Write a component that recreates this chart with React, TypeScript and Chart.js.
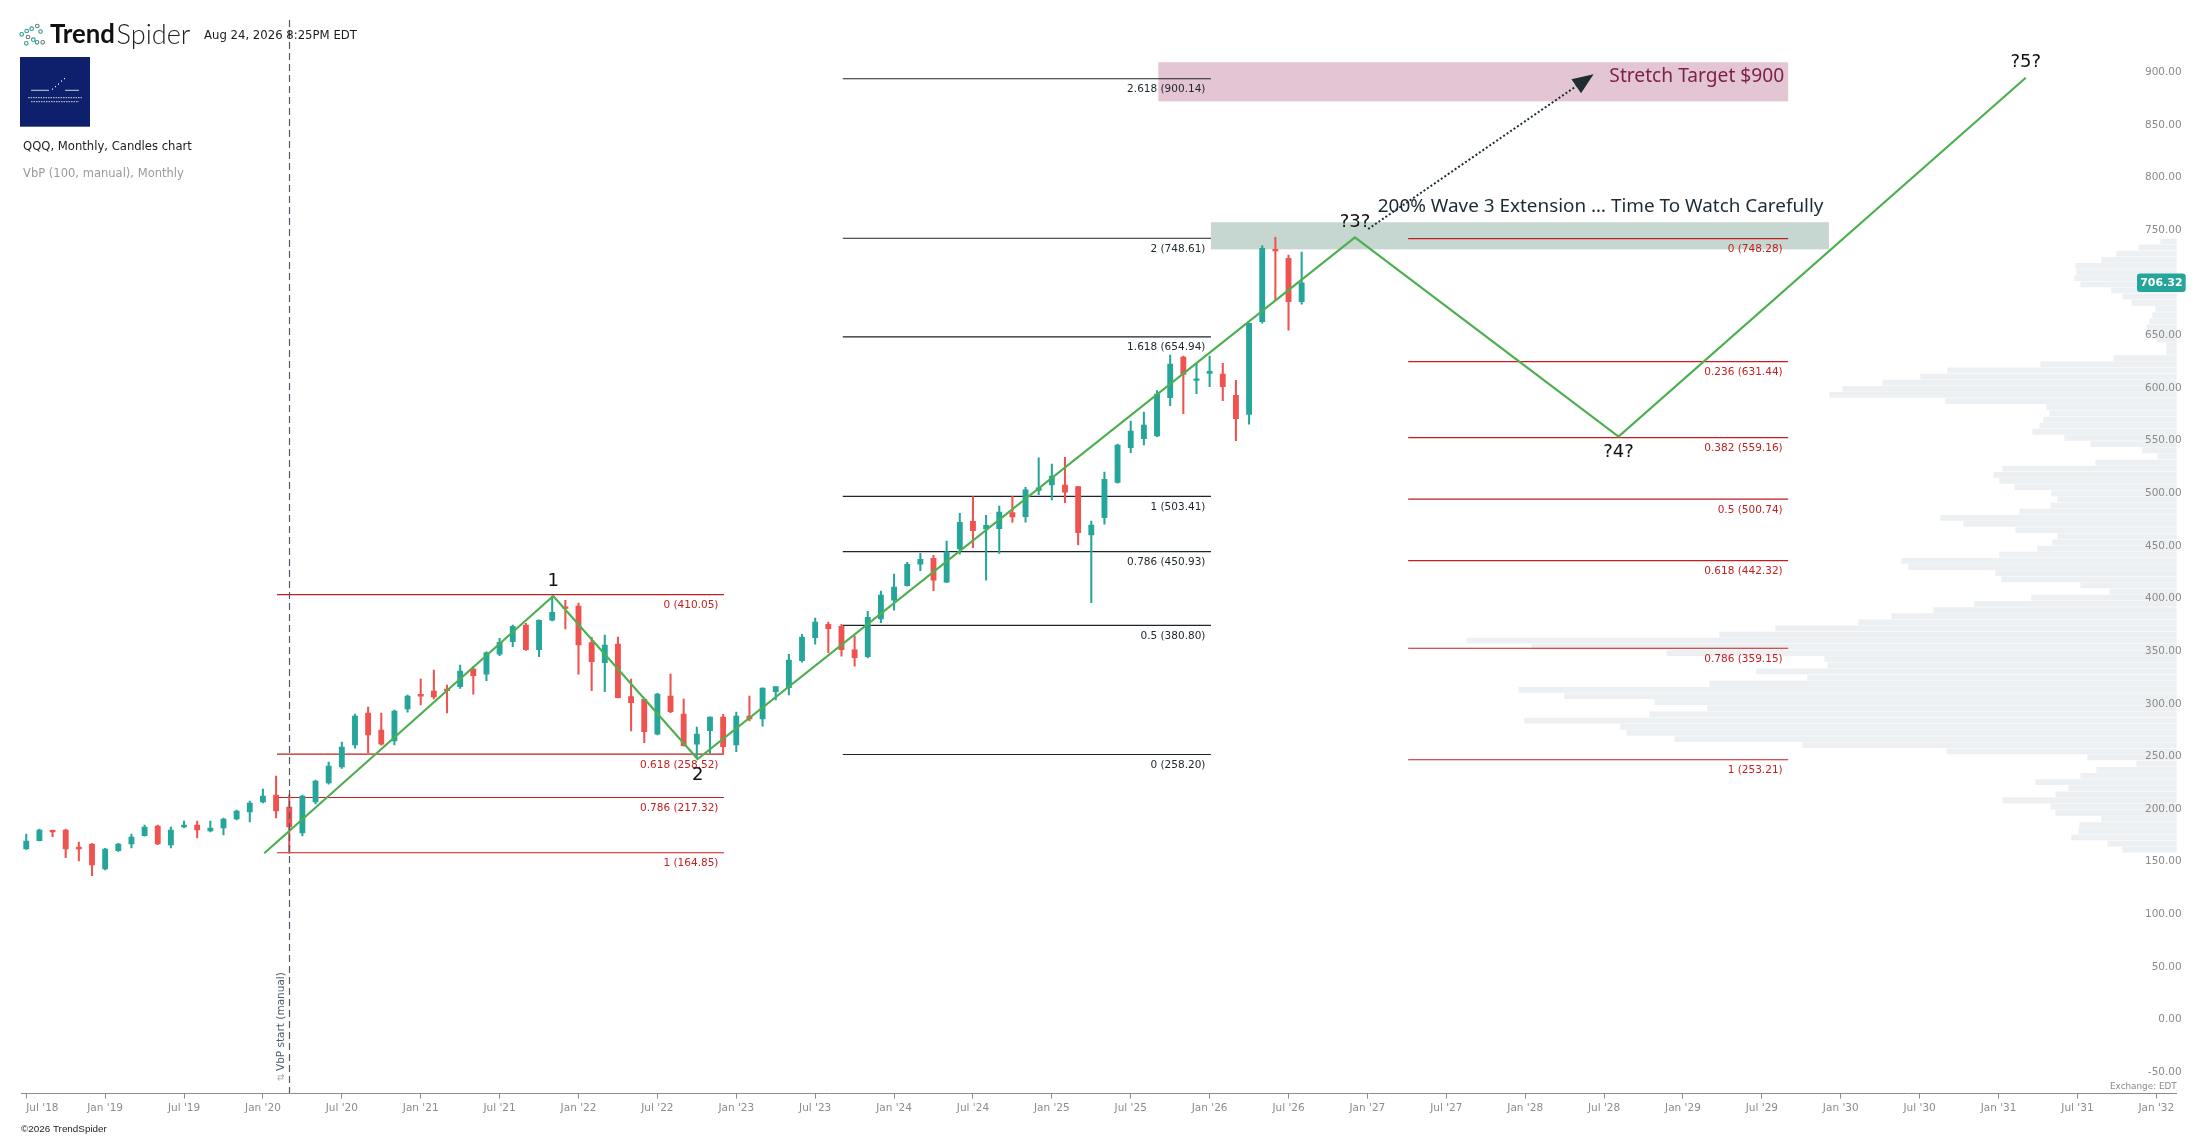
import { useEffect, useRef } from 'react';
import { Chart, registerables } from 'chart.js';

Chart.register(...registerables);

// ---------------- data ----------------
const candleMonths = [
  '2018-07','2018-08','2018-09','2018-10','2018-11','2018-12',
  '2019-01','2019-02','2019-03','2019-04','2019-05','2019-06','2019-07','2019-08','2019-09','2019-10','2019-11','2019-12',
  '2020-01','2020-02','2020-03','2020-04','2020-05','2020-06','2020-07','2020-08','2020-09','2020-10','2020-11','2020-12',
  '2021-01','2021-02','2021-03','2021-04','2021-05','2021-06','2021-07','2021-08','2021-09','2021-10','2021-11','2021-12',
  '2022-01','2022-02','2022-03','2022-04','2022-05','2022-06','2022-07','2022-08','2022-09','2022-10','2022-11','2022-12',
  '2023-01','2023-02','2023-03','2023-04','2023-05','2023-06','2023-07','2023-08','2023-09','2023-10','2023-11','2023-12',
  '2024-01','2024-02','2024-03','2024-04','2024-05','2024-06','2024-07','2024-08','2024-09','2024-10','2024-11','2024-12',
  '2025-01','2025-02','2025-03','2025-04','2025-05','2025-06','2025-07','2025-08','2025-09','2025-10','2025-11','2025-12',
  '2026-01','2026-02','2026-03','2026-04','2026-05','2026-06','2026-07','2026-08'
];

const openP = [
  168.4,176.3,185.8,186.4,170.3,173.1,149.4,166.8,173.1,181.0,
  190.2,172.2,189.3,191.2,185.5,188.3,196.9,203.5,213.0,219.7,
  208.3,183.6,213.0,231.1,246.3,267.2,297.6,281.4,271.0,301.4,
  314.7,318.5,319.4,322.6,339.4,334.6,353.6,365.3,381.2,357.7,
  385.9,398.0,399.2,364.4,345.4,363.1,313.1,310.6,277.6,313.7,
  296.6,268.1,280.8,293.8,267.2,294.7,291.9,317.8,321.6,347.3,
  369.1,381.8,379.9,357.7,351.1,386.9,404.9,418.6,439.1,444.5,
  422.0,453.4,479.7,472.4,472.7,488.1,484.0,509.0,514.2,514.2,
  512.6,466.7,483.1,516.7,549.6,558.2,560.8,597.2,635.8,613.6,
  620.3,619.6,599.4,581.3,669.4,737.5,729.5,688.4
];
const highP = [
  182.6,187.4,186.4,187.4,175.0,173.5,169.0,173.8,182.6,191.2,
  191.2,189.3,195.0,195.0,195.0,197.8,205.4,214.0,225.4,237.7,
  219.7,219.7,233.9,251.0,270.0,296.6,303.3,297.6,300.4,314.7,
  329.9,338.4,324.2,343.2,341.6,355.8,368.5,381.2,382.8,386.0,
  408.7,404.6,402.1,369.5,371.7,369.8,329.9,311.0,316.3,334.6,
  310.9,284.3,294.0,296.3,298.5,313.7,321.5,322.8,353.3,372.3,
  387.8,384.0,381.8,370.7,394.2,413.5,429.6,440.7,449.3,447.4,
  461.0,487.3,503.1,485.4,494.2,503.5,512.0,540.0,534.1,540.5,
  513.0,480.0,526.5,553.1,575.0,583.5,603.8,637.7,636.7,629.8,
  636.7,629.8,613.6,668.0,741.6,749.5,732.7,735.5
];
const lowP = [
  168.0,176.0,180.1,160.1,157.0,143.0,148.5,166.0,169.3,180.5,
  172.5,169.3,188.3,178.8,184.5,181.7,196.0,194.0,212.1,197.8,
  164.3,180.7,211.1,230.0,245.0,264.3,259.6,267.0,267.2,298.5,
  305.2,310.9,297.6,321.0,315.6,328.3,352.0,360.6,357.0,351.1,
  385.0,377.4,334.6,318.8,317.8,312.0,280.5,269.4,276.7,298.0,
  266.0,253.9,259.3,259.3,260.8,290.0,285.2,310.0,314.7,346.0,
  363.1,354.9,351.7,342.2,350.0,383.4,395.4,418.0,432.8,413.8,
  421.4,448.6,454.7,423.9,449.3,478.7,479.0,505.0,500.0,497.4,
  457.2,402.4,477.1,516.0,544.9,552.2,560.0,589.6,582.0,601.0,
  607.6,594.3,556.3,572.1,668.0,690.0,661.4,686.1
];
const closeP = [
  176.0,186.4,184.5,168.4,168.4,153.2,168.4,173.1,179.8,189.3,
  173.1,186.4,191.2,186.4,188.3,196.9,204.5,212.1,218.7,204.5,
  189.3,218.7,233.0,247.2,265.3,294.7,276.7,268.1,299.5,313.7,
  313.7,312.8,318.8,337.5,333.0,354.9,364.7,379.9,357.7,385.6,
  393.2,397.0,362.2,346.4,362.2,312.2,307.4,279.8,315.6,298.9,
  266.5,277.6,293.8,265.6,294.7,292.0,321.3,322.6,347.9,369.8,
  384.0,377.7,357.7,350.1,388.5,409.7,417.3,438.8,443.6,423.9,
  450.8,478.7,470.8,475.9,488.5,483.9,509.7,511.5,522.7,507.5,
  468.9,476.2,519.6,552.2,565.5,571.2,600.6,629.1,619.3,614.6,
  622.2,607.6,577.2,667.8,739.0,736.5,688.4,706.32
];

// x axis: month index (0 = Jul 2018)
const xTickValues = [0,6,12,18,24,30,36,42,48,54,60,66,72,78,84,90,96,102,108,114,120,126,132,138,144,150,156,162];
const xTickLabels = [
  "Jul '18","Jan '19","Jul '19","Jan '20","Jul '20","Jan '21","Jul '21","Jan '22","Jul '22","Jan '23",
  "Jul '23","Jan '24","Jul '24","Jan '25","Jul '25","Jan '26","Jul '26","Jan '27","Jul '27","Jan '28",
  "Jul '28","Jan '29","Jul '29","Jan '30","Jul '30","Jan '31","Jul '31","Jan '32"
];
const yTickValues = [-50,0,50,100,150,200,250,300,350,400,450,500,550,600,650,700,750,800,850,900];

// Volume by price (100 rows, top row first)
const vbpHigh = 748.61;
const vbpLow = 164.85;
const vbpVolumes = [
  16,38,60,75,101,100,102,96,65,54,
  45,21,24,27,30,28,20,10,10,63,
  136,229,256,294,334,347,231,130,127,133,
  137,144,112,86,34,19,81,174,183,177,
  162,125,119,126,157,236,213,161,119,124,
  139,177,275,268,181,175,96,67,145,202,
  243,285,318,401,457,710,645,510,352,349,
  420,369,467,658,612,522,469,527,652,556,
  550,502,374,230,89,40,80,96,141,108,
  121,174,126,121,75,97,98,105,69,54
];
const vbpStartMonth = 20;

// Fibonacci tools
const fibALevels = [410.05, 258.52, 217.32, 164.85];
const fibARatios = ['0', '0.618', '0.786', '1'];
const fibARange = [19.07, 53.06];

const fibBLevels = [900.14, 748.61, 654.94, 503.41, 450.93, 380.80, 258.20];
const fibBRatios = ['2.618', '2', '1.618', '1', '0.786', '0.5', '0'];
const fibBRange = [62.1, 90.1];

const fibCLevels = [748.28, 631.44, 559.16, 500.74, 442.32, 359.15, 253.21];
const fibCRatios = ['0', '0.236', '0.382', '0.5', '0.618', '0.786', '1'];
const fibCRange = [105.1, 134.0];

// Elliott wave count
const waveX = [18.1, 40.08, 51.06, 101.05, 121.1, 152.07];
const waveY = [164.4, 408.7, 253.9, 749.5, 560.1, 901.1];
const waveLabels = ['', '1', '2', '?3?', '?4?', '?5?'];

// zones [x0, x1, priceLow, priceHigh]
const stretchZone = [86.1, 134.0, 878.7, 915.8];
const extensionZone = [90.1, 137.1, 738.1, 763.8];

// notes
const noteTexts = ['200% Wave 3 Extension \u2026 Time To Watch Carefully', 'Stretch Target $900'];
const noteX = [102.79, 120.4];
const noteY = [778.6, 902.1];

// arrow [x, price]
const arrowFrom = [102.06, 757.4];
const arrowTo = [119.2, 904.4];

// ---------------- styles ----------------
const GREEN = '#26a69a';
const RED = '#ef5350';
const FIB_RED = '#c41e1e';
const FIB_DARK = '#1c262b';
const WAVE = '#4caf50';
const DV = '"DejaVu Sans", sans-serif';

const isUp = (i: number) => closeP[i] >= openP[i];
const candleColors = closeP.map((_, i) => (isUp(i) ? GREEN : RED));
const vbpBin = (vbpHigh - vbpLow) / vbpVolumes.length;

function fibData(levels: number[], range: number[]) {
  const out: any[] = [];
  levels.forEach((lv) => {
    out.push({ x: range[0], y: lv });
    out.push({ x: range[1], y: lv });
    out.push({ x: range[1], y: null });
  });
  return out;
}

function fitFont(ctx: CanvasRenderingContext2D, text: string, weight: string, family: string, base: number, target: number) {
  ctx.font = `${weight} ${base}px ${family}`;
  const w = ctx.measureText(text).width;
  let s = w > 0 ? (base * target) / w : base;
  s = Math.max(base * 0.75, Math.min(base * 1.35, s));
  ctx.font = `${weight} ${s}px ${family}`;
}

const overlay = {
  id: 'overlay',
  beforeDatasetsDraw(chart: any) {
    const { ctx, scales } = chart;
    const x = scales.x;
    const y = scales.y;
    ctx.save();
    const zones: [number[], string][] = [
      [stretchZone, '#e4c5d4'],
      [extensionZone, '#c6d6d1'],
    ];
    zones.forEach(([z, c]) => {
      const x0 = x.getPixelForValue(z[0]);
      const x1 = x.getPixelForValue(z[1]);
      const y0 = y.getPixelForValue(z[3]);
      const y1 = y.getPixelForValue(z[2]);
      ctx.fillStyle = c;
      ctx.fillRect(x0, y0, x1 - x0, y1 - y0);
    });
    ctx.restore();
  },
  afterDatasetsDraw(chart: any) {
    const { ctx, scales, chartArea } = chart;
    const x = scales.x;
    const y = scales.y;
    ctx.save();

    // fib labels
    ctx.textAlign = 'right';
    ctx.textBaseline = 'middle';
    ctx.font = `10.5px ${DV}`;
    const groups: [number[], string[], number[], string][] = [
      [fibALevels, fibARatios, fibARange, FIB_RED],
      [fibBLevels, fibBRatios, fibBRange, FIB_DARK],
      [fibCLevels, fibCRatios, fibCRange, FIB_RED],
    ];
    groups.forEach(([lv, rt, rg, col]) => {
      const xe = x.getPixelForValue(rg[1]);
      ctx.fillStyle = col;
      lv.forEach((v, i) => {
        ctx.fillText(`${rt[i]} (${v.toFixed(2)})`, xe - 5.5, y.getPixelForValue(v) + 10.7);
      });
    });

    // wave labels
    ctx.fillStyle = '#111';
    ctx.textAlign = 'center';
    ctx.font = `18px ${DV}`;
    waveLabels.forEach((t, i) => {
      if (!t) return;
      const px = x.getPixelForValue(waveX[i]);
      const py = y.getPixelForValue(waveY[i]);
      const up = i % 2 === 1;
      ctx.fillText(t, px, up ? py - 15 : py + 16);
    });

    // notes
    ctx.textAlign = 'left';
    ctx.fillStyle = '#1c2b33';
    fitFont(ctx, noteTexts[0], '400', '"Noto Sans", sans-serif', 18, 446);
    ctx.fillText(noteTexts[0], x.getPixelForValue(noteX[0]), y.getPixelForValue(noteY[0]));
    ctx.fillStyle = '#7b1f4b';
    fitFont(ctx, noteTexts[1], '400', '"Noto Sans", sans-serif', 19, 175);
    ctx.fillText(noteTexts[1], x.getPixelForValue(noteX[1]), y.getPixelForValue(noteY[1]));

    // arrow
    const ax0 = x.getPixelForValue(arrowFrom[0]);
    const ay0 = y.getPixelForValue(arrowFrom[1]);
    const ax1 = x.getPixelForValue(arrowTo[0]);
    const ay1 = y.getPixelForValue(arrowTo[1]);
    const dx = ax1 - ax0;
    const dy = ay1 - ay0;
    const len = Math.hypot(dx, dy);
    const ux = dx / len;
    const uy = dy / len;
    const headL = 21;
    const headW = 8.5;
    const bx = ax1 - ux * headL;
    const by = ay1 - uy * headL;
    ctx.strokeStyle = '#1f2d33';
    ctx.lineWidth = 2;
    ctx.setLineDash([2, 2.2]);
    ctx.beginPath();
    ctx.moveTo(ax0, ay0);
    ctx.lineTo(bx, by);
    ctx.stroke();
    ctx.setLineDash([]);
    ctx.fillStyle = '#1f2d33';
    ctx.beginPath();
    ctx.moveTo(ax1, ay1);
    ctx.lineTo(bx - uy * headW, by + ux * headW);
    ctx.lineTo(bx + uy * headW, by - ux * headW);
    ctx.closePath();
    ctx.fill();

    // VbP start line
    const vx = Math.round(x.getPixelForValue(vbpStartMonth)) + 0.5;
    ctx.strokeStyle = '#4d5964';
    ctx.lineWidth = 1.2;
    ctx.setLineDash([7, 4]);
    ctx.beginPath();
    ctx.moveTo(vx, 20);
    ctx.lineTo(vx, chartArea.bottom);
    ctx.stroke();
    ctx.setLineDash([]);
    ctx.save();
    ctx.translate(vx - 8, 0);
    ctx.rotate(-Math.PI / 2);
    ctx.textBaseline = 'middle';
    ctx.textAlign = 'center';
    ctx.fillStyle = '#a3acb2';
    ctx.font = `9px ${DV}`;
    ctx.fillText('\u21c5', -1077.5, 0);
    ctx.textAlign = 'left';
    ctx.fillStyle = '#4d5b66';
    ctx.font = `10.5px ${DV}`;
    ctx.fillText('VbP start (manual)', -1071, 0);
    ctx.restore();

    ctx.restore();
  },
  afterDraw(chart: any) {
    const { ctx, scales, chartArea } = chart;
    const y = scales.y;
    ctx.save();
    ctx.textBaseline = 'middle';

    // last price badge
    const last = closeP[closeP.length - 1];
    const by = y.getPixelForValue(last);
    const bx0 = 2137;
    const bw = 48.7;
    const bh = 18.4;
    ctx.fillStyle = GREEN;
    ctx.beginPath();
    (ctx as any).roundRect(bx0, by - bh / 2, bw, bh, 3);
    ctx.fill();
    ctx.fillStyle = '#fff';
    ctx.textAlign = 'center';
    ctx.font = `bold 11px ${DV}`;
    ctx.fillText(last.toFixed(2), bx0 + bw / 2, by + 0.5);

    // exchange
    ctx.textAlign = 'right';
    ctx.fillStyle = '#8a8a8a';
    fitFont(ctx, 'Exchange: EDT', '400', DV, 9.5, 66.7);
    ctx.fillText('Exchange: EDT', chartArea.right, 1086.7);

    // copyright
    ctx.textAlign = 'left';
    ctx.fillStyle = '#222';
    fitFont(ctx, '\u00a92026 TrendSpider', '400', '"Liberation Sans", Arial, sans-serif', 11, 86);
    ctx.fillText('\u00a92026 TrendSpider', 21, 1129.3);

    // header logo icon
    const dots: [number, number, string][] = [
      [21.7, 34.3, '#2a9d8f'], [26.7, 31, '#2a9d8f'], [28, 37, '#6b7c80'], [31.7, 28.7, '#2a9d8f'],
      [33.3, 39.7, '#2a9d8f'], [37.3, 26, '#6b7c80'], [37, 42.3, '#2a9d8f'], [40.5, 31.5, '#2a9d8f'],
      [42.7, 42.3, '#6b7c80'], [26.3, 43.3, '#2a9d8f'],
    ];
    ctx.lineWidth = 1.1;
    dots.forEach(([cx, cy, c]) => {
      ctx.strokeStyle = c;
      ctx.beginPath();
      ctx.arc(cx, cy, 1.8, 0, Math.PI * 2);
      ctx.stroke();
    });
    ctx.textAlign = 'left';
    ctx.fillStyle = '#111';
    fitFont(ctx, 'Trend', '700', 'Lato, "Open Sans", sans-serif', 23, 65);
    ctx.fillText('Trend', 50, 34.8);
    ctx.fillStyle = '#222';
    fitFont(ctx, 'Spider', '300', 'Lato, "Open Sans", sans-serif', 23, 74);
    ctx.fillText('Spider', 116.5, 34.8);

    // date
    ctx.fillStyle = '#1a1a1a';
    fitFont(ctx, 'Aug 24, 2026 8:25PM EDT', '400', DV, 11, 153);
    ctx.fillText('Aug 24, 2026 8:25PM EDT', 204, 35.7);

    // avatar square
    ctx.fillStyle = '#0e1f6b';
    ctx.fillRect(20, 57, 70, 69.7);
    ctx.strokeStyle = '#ffffff';
    ctx.lineWidth = 0.8;
    ctx.beginPath();
    ctx.moveTo(31, 90.3); ctx.lineTo(49, 90.3);
    ctx.moveTo(65, 90.3); ctx.lineTo(79, 90.3);
    ctx.stroke();
    ctx.fillStyle = '#ffffff';
    [[52, 88.5], [55, 86], [58, 83.5], [61, 80.5], [64, 78]].forEach(([px, py]) => {
      ctx.fillRect(px, py, 1, 1.2);
    });
    ctx.globalAlpha = 0.8;
    ctx.setLineDash([1.6, 0.9]);
    ctx.lineWidth = 1;
    ctx.beginPath();
    ctx.moveTo(28, 97.7); ctx.lineTo(82, 97.7);
    ctx.moveTo(31, 101.7); ctx.lineTo(79, 101.7);
    ctx.stroke();
    ctx.setLineDash([]);
    ctx.globalAlpha = 1;

    // titles
    ctx.fillStyle = '#222';
    fitFont(ctx, 'QQQ, Monthly, Candles chart', '400', DV, 11.5, 169);
    ctx.fillText('QQQ, Monthly, Candles chart', 23, 147.3);
    ctx.fillStyle = '#9a9a9a';
    fitFont(ctx, 'VbP (100, manual), Monthly', '400', DV, 11.5, 161);
    ctx.fillText('VbP (100, manual), Monthly', 23, 173.7);

    ctx.restore();
  },
};

export default function App() {
  const ref = useRef<HTMLCanvasElement>(null);

  useEffect(() => {
    if (!ref.current) return;
    const vbpData = vbpVolumes.map((v, k) => ({ x: v, y: vbpHigh - (k + 0.5) * vbpBin }));
    const wickData = candleMonths.map((_, i) => ({ x: i, y: [lowP[i], highP[i]] }));
    const bodyData = candleMonths.map((_, i) => ({ x: i, y: [openP[i], closeP[i]] }));
    const waveData = waveX.map((v, i) => ({ x: v, y: waveY[i] }));

    const chart = new Chart(ref.current, {
      type: 'bar',
      data: {
        datasets: [
          {
            type: 'bar',
            label: 'VbP',
            indexAxis: 'y',
            xAxisID: 'xv',
            yAxisID: 'y',
            data: vbpData,
            backgroundColor: '#edf0f2',
            barThickness: 5.1,
            grouped: false,
            borderWidth: 0,
            order: 10,
          } as any,
          {
            type: 'line',
            label: 'fibA',
            data: fibData(fibALevels, fibARange),
            borderColor: FIB_RED,
            borderWidth: 1.1,
            pointRadius: 0,
            spanGaps: false,
            order: 6,
          } as any,
          {
            type: 'line',
            label: 'fibB',
            data: fibData(fibBLevels, fibBRange),
            borderColor: FIB_DARK,
            borderWidth: 1.1,
            pointRadius: 0,
            spanGaps: false,
            order: 6,
          } as any,
          {
            type: 'line',
            label: 'fibC',
            data: fibData(fibCLevels, fibCRange),
            borderColor: FIB_RED,
            borderWidth: 1.1,
            pointRadius: 0,
            spanGaps: false,
            order: 6,
          } as any,
          {
            type: 'bar',
            label: 'wicks',
            xAxisID: 'x',
            yAxisID: 'y',
            data: wickData,
            backgroundColor: candleColors,
            barThickness: 1.4,
            grouped: false,
            borderWidth: 0,
            order: 5,
          } as any,
          {
            type: 'bar',
            label: 'bodies',
            xAxisID: 'x',
            yAxisID: 'y',
            data: bodyData,
            backgroundColor: candleColors,
            barThickness: 5.2,
            minBarLength: 1.6,
            grouped: false,
            borderWidth: 0,
            order: 4,
          } as any,
          {
            type: 'line',
            label: 'wave',
            data: waveData,
            borderColor: WAVE,
            borderWidth: 2.2,
            pointRadius: 0,
            tension: 0,
            order: 0,
          } as any,
        ],
      },
      options: {
        responsive: false,
        animation: false,
        events: [],
        layout: { padding: { left: 21, right: 30.3, top: 0, bottom: 0 } },
        plugins: { legend: { display: false }, tooltip: { enabled: false } },
        scales: {
          x: {
            type: 'linear',
            position: 'bottom',
            min: -0.4,
            max: 163.55,
            offset: false,
            afterBuildTicks: (s: any) => {
              s.ticks = [...xTickValues.map((v) => ({ value: v })), { value: 163.55 }];
            },
            afterFit: (s: any) => {
              s.height = 45.7;
              s.paddingLeft = 0;
              s.paddingRight = 0;
            },
            grid: {
              offset: false,
              drawOnChartArea: false,
              drawTicks: true,
              tickLength: 5.3,
              tickColor: (c: any) => (c.tick && c.tick.value > 162.5 ? 'rgba(0,0,0,0)' : '#8c8c8c'),
              color: '#8c8c8c',
            },
            border: { display: true, color: '#8c8c8c', width: 1 },
            ticks: {
              autoSkip: false,
              maxRotation: 0,
              minRotation: 0,
              align: 'inner',
              padding: 3.4,
              color: '#8c8c8c',
              font: { family: 'DejaVu Sans', size: 10.5 },
              callback: (v: any) => {
                const i = xTickValues.indexOf(Number(v));
                return i >= 0 ? xTickLabels[i] : '';
              },
            },
          } as any,
          xv: {
            type: 'linear',
            axis: 'x',
            display: false,
            reverse: true,
            offset: false,
            grid: { offset: false },
            min: 0,
            max: 2155.7,
          } as any,
          y: {
            type: 'linear',
            position: 'right',
            min: -63.7,
            max: 974.96,
            offset: false,
            afterBuildTicks: (s: any) => {
              s.ticks = yTickValues.map((v) => ({ value: v }));
            },
            afterFit: (s: any) => {
              s.width = 0;
              s.paddingTop = 0;
              s.paddingBottom = 0;
            },
            grid: { display: false, drawTicks: false, offset: false },
            border: { display: false },
            ticks: {
              z: 1,
              mirror: true,
              padding: 5,
              labelOffset: -6.6,
              color: '#8a8a8a',
              font: { family: 'DejaVu Sans', size: 10.5 },
              callback: (v: any) => Number(v).toFixed(2),
            },
          } as any,
        },
      } as any,
      plugins: [overlay],
    });
    return () => chart.destroy();
  }, []);

  return (
    <div style={{ position: 'fixed', left: 0, top: 0, width: 2207, height: 1139, background: '#fff' }}>
      <canvas ref={ref} width={2207} height={1139} style={{ display: 'block', width: 2207, height: 1139 }} />
    </div>
  );
}
